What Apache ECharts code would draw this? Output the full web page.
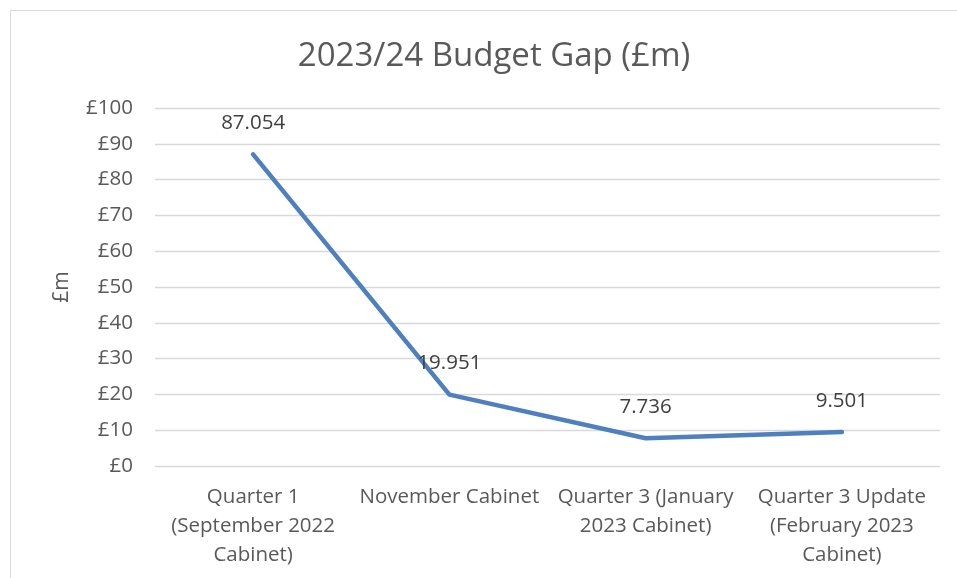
<html>
<head>
<meta charset="utf-8">
<script src="https://cdn.jsdelivr.net/npm/echarts@6/dist/echarts.min.js"></script>
<style>
    html, body {
        margin: 0;
        padding: 0;
        overflow: hidden;
        background: #ffffff;
    }
    .chart-frame {
        position: absolute;
        left: 10px;
        top: 10px;
        width: 1000px;
        height: 600px;
        border: 1px solid #d9d9d9;
    }
    #budget-gap {
        position: absolute;
        left: 0;
        top: 0;
        width: 957px;
        height: 578px;
    }
</style>
</head>
<body>
<div class="chart-frame"></div>
<div id="budget-gap"></div>

<script>
    // categories / values
    var categories = [
        'Quarter 1\n(September 2022\nCabinet)',
        'November Cabinet',
        'Quarter 3 (January\n2023 Cabinet)',
        'Quarter 3 Update\n(February 2023\nCabinet)'
    ];
    var gapValues = [87.054, 19.951, 7.736, 9.501];
    var yTicks = [0, 10, 20, 30, 40, 50, 60, 70, 80, 90, 100];

    var textColor = '#595959';
    var fontName = 'Open Sans';

    var budgetChart = echarts.init(document.getElementById('budget-gap'));
    var option = {
        animation: false,
        title: {
            text: '2023/24 Budget Gap (£m)',
            left: 489,
            top: 35,
            textAlign: 'center',
            textStyle: {
                color: textColor,
                fontFamily: fontName,
                fontSize: 33,
                fontWeight: 'normal'
            }
        },
        grid: {
            left: 155,
            right: 17,
            top: 108,
            bottom: 112
        },
        xAxis: {
            type: 'category',
            boundaryGap: true,
            data: categories,
            axisTick: { show: false },
            axisLine: { show: false },
            axisLabel: {
                color: textColor,
                fontFamily: fontName,
                fontSize: 20.5,
                lineHeight: 29,
                margin: 17,
                interval: 0
            }
        },
        yAxis: {
            type: 'value',
            min: yTicks[0],
            max: yTicks[yTicks.length - 1],
            interval: yTicks[1] - yTicks[0],
            name: '£m',
            nameLocation: 'middle',
            nameGap: 82,
            nameRotate: 90,
            nameTextStyle: {
                color: textColor,
                fontFamily: fontName,
                fontSize: 21
            },
            axisLine: { show: false },
            axisTick: { show: false },
            axisLabel: {
                color: textColor,
                fontFamily: fontName,
                fontSize: 20.5,
                margin: 22,
                formatter: function (v) { return '£' + v; }
            },
            splitLine: {
                lineStyle: { color: '#d9d9d9', width: 1.3 }
            }
        },
        series: [{
            name: 'Budget Gap',
            type: 'line',
            data: gapValues,
            showSymbol: true,
            symbol: 'circle',
            symbolSize: 1,
            itemStyle: { color: '#4e7fbf' },
            lineStyle: {
                color: '#4e7fbf',
                width: 4.5,
                cap: 'round',
                join: 'round'
            },
            label: {
                show: true,
                position: 'top',
                distance: 20,
                color: '#404040',
                fontFamily: fontName,
                fontSize: 20.5,
                formatter: function (p) { return p.value.toFixed(3); }
            }
        }]
    };
    budgetChart.setOption(option);
</script>
</body>
</html>
